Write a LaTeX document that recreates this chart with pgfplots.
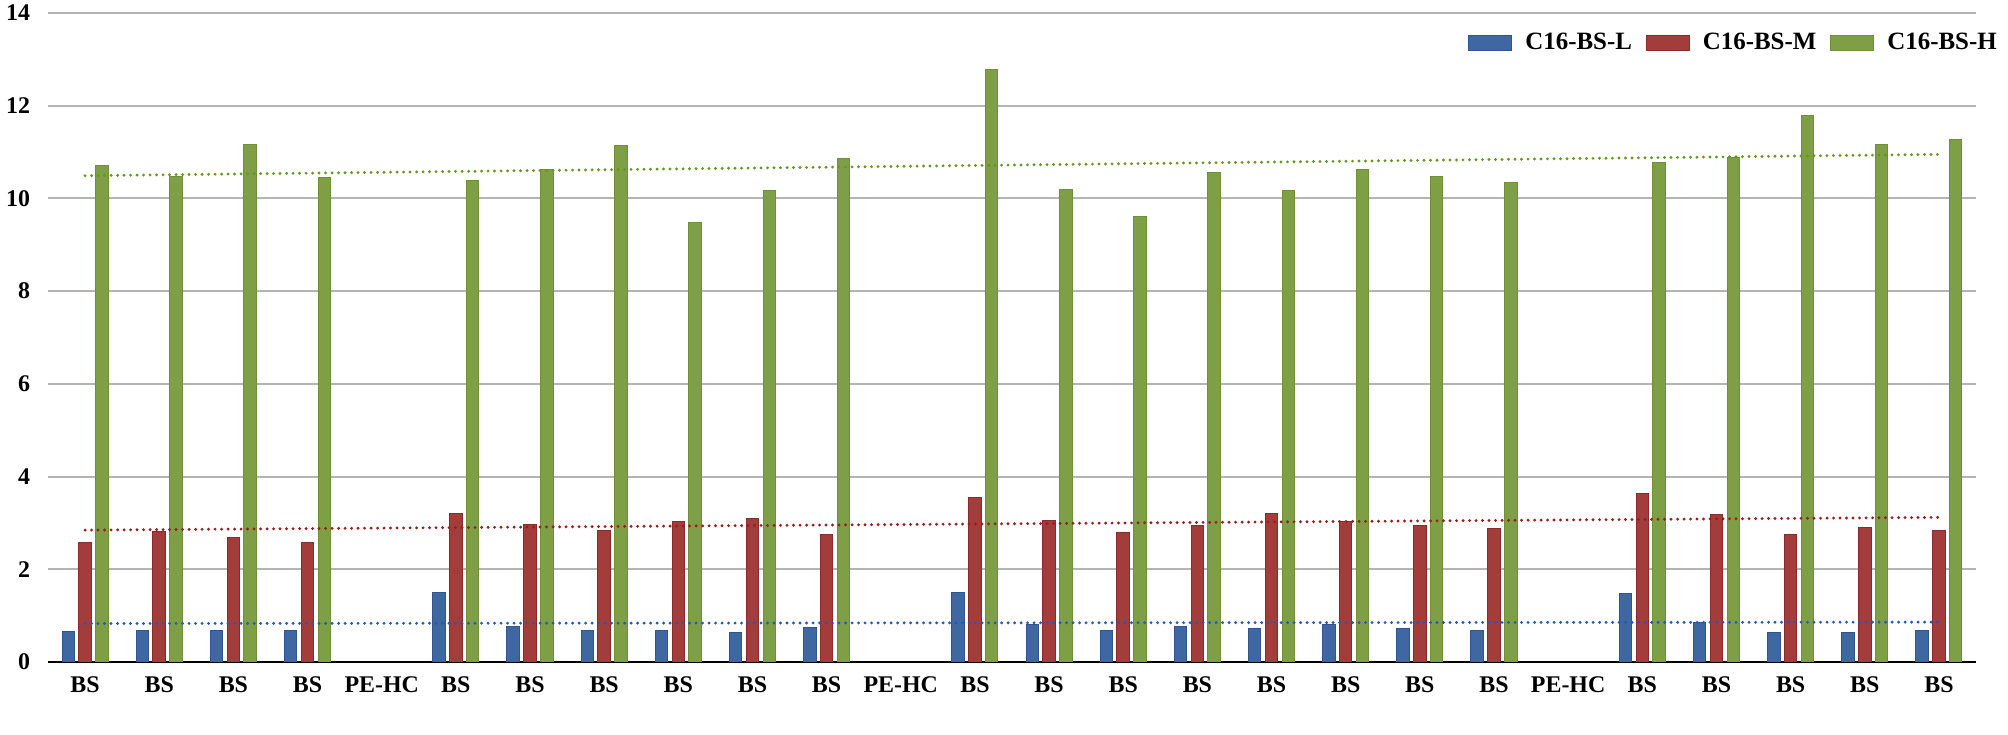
\documentclass[border=0pt]{standalone}
\usepackage{fontspec}
\setmainfont{Liberation Serif}
\usepackage{pgfplots}
\pgfplotsset{compat=1.18}
\definecolor{cL}{HTML}{3F68A2}
\definecolor{cLb}{HTML}{2F5590}
\definecolor{cM}{HTML}{A33D3C}
\definecolor{cMb}{HTML}{8C2A2A}
\definecolor{cH}{HTML}{7F9F46}
\definecolor{cHb}{HTML}{6E9036}
\definecolor{tL}{HTML}{2358B8}
\definecolor{tM}{HTML}{9A1C1C}
\definecolor{tH}{HTML}{66961E}
\definecolor{gridc}{HTML}{B4B4B4}
\begin{document}
\begin{tikzpicture}
\useasboundingbox (-24bp,-36.5bp) rectangle (980bp,331bp);
\begin{axis}[
  scale only axis,
  width=964bp, height=324.5bp,
  xmin=-0.5, xmax=25.5,
  ymin=0, ymax=14,
  ytick={0,2,...,14},
  xtick={0,...,25},
  xticklabels={BS,BS,BS,BS,PE-HC,BS,BS,BS,BS,BS,BS,PE-HC,BS,BS,BS,BS,BS,BS,BS,BS,PE-HC,BS,BS,BS,BS,BS},
  axis x line*=bottom,
  axis y line*=left,
  y axis line style={draw=none},
  x axis line style={black, line width=1bp},
  major tick length=0pt,
  xmajorgrids=false,
  ymajorgrids=true,
  y grid style={gridc, line width=1bp},
  tick label style={font=\fontsize{12}{14}\selectfont\bfseries},
  /pgf/number format/assume math mode=true,
  yticklabel style={xshift=-5.5bp},
  xticklabel style={yshift=-4bp},
  ybar,
  bar width=6.25bp,
  area legend,
  legend columns=3,
  legend style={draw=none, fill=none, at={(1.013,0.954)}, anchor=east,
    font=\fontsize{12.5}{15}\selectfont\bfseries, inner sep=0pt,
    /tikz/every odd column/.append style={column sep=4.5bp},
    /tikz/every even column/.append style={column sep=5bp}},
  legend image code/.code={\draw[#1] (0bp,-3.75bp) rectangle (21.5bp,3.75bp);},
]
\addplot[fill=cL, draw=cLb, line width=0.5bp, bar shift=-8.4bp] coordinates {
(0,0.65) (1,0.69) (2,0.69) (3,0.69) (5,1.49) (6,0.77) (7,0.68) (8,0.68) (9,0.63) (10,0.75)
(12,1.50) (13,0.81) (14,0.69) (15,0.77) (16,0.73) (17,0.81) (18,0.73) (19,0.69)
(21,1.47) (22,0.85) (23,0.63) (24,0.63) (25,0.69)};
\addlegendentry{C16-BS-L}
\addplot[fill=cM, draw=cMb, line width=0.5bp, bar shift=0bp] coordinates {
(0,2.57) (1,2.82) (2,2.68) (3,2.57) (5,3.20) (6,2.97) (7,2.84) (8,3.03) (9,3.09) (10,2.75)
(12,3.54) (13,3.05) (14,2.79) (15,2.94) (16,3.20) (17,3.03) (18,2.95) (19,2.88)
(21,3.64) (22,3.18) (23,2.74) (24,2.90) (25,2.83)};
\addlegendentry{C16-BS-M}
\addplot[fill=cH, draw=cHb, line width=0.5bp, bar shift=8.4bp] coordinates {
(0,10.70) (1,10.47) (2,11.16) (3,10.45) (5,10.38) (6,10.62) (7,11.14) (8,9.49) (9,10.17) (10,10.87)
(12,12.78) (13,10.19) (14,9.60) (15,10.56) (16,10.17) (17,10.63) (18,10.47) (19,10.35)
(21,10.77) (22,10.89) (23,11.78) (24,11.17) (25,11.27)};
\addlegendentry{C16-BS-H}
\addplot[sharp plot, tL, line width=1.6bp, line cap=round, dash pattern=on 0bp off 3.25bp, forget plot] coordinates {(0,0.83) (25,0.86)};
\addplot[sharp plot, tM, line width=1.6bp, line cap=round, dash pattern=on 0bp off 3.25bp, forget plot] coordinates {(0,2.845) (25,3.12)};
\addplot[sharp plot, tH, line width=1.6bp, line cap=round, dash pattern=on 0bp off 3.25bp, forget plot] coordinates {(0,10.49) (25,10.95)};
\end{axis}
\end{tikzpicture}
\end{document}
